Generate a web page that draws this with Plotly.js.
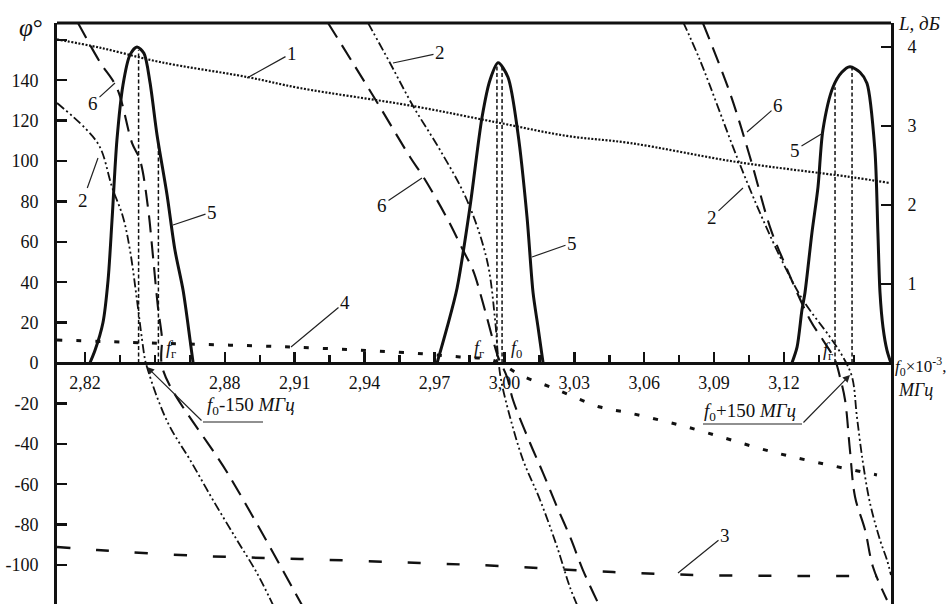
<!DOCTYPE html>
<html><head><meta charset="utf-8">
<script src="https://cdn.plot.ly/plotly-3.0.1.min.js"></script>
<style>html,body{margin:0;padding:0;background:#fff}#chart{width:947px;height:605px}</style>
</head><body><div id="chart"></div>
<script>
// ---- data (frequency f0×10^-3, MHz; phase φ°; loss L, dB) ----
const f1   = [2.808, 2.8264, 2.8522, 2.8895, 2.9123, 2.9608, 2.9981, 3.0269, 3.0539, 3.0998, 3.1483, 3.1655];
const phi1 = [160.2, 156.1, 149.0, 141.6, 136.1, 127.2, 118.8, 112.4, 108.9, 99.5, 92.1, 89.1];

const f2a   = [2.808, 2.82, 2.8264, 2.8316, 2.8363, 2.8393, 2.8423, 2.8445, 2.8458, 2.8466, 2.8509, 2.8565, 2.8651, 2.8749, 2.8852, 2.8938, 2.9007];
const phi2a = [128.7, 116.3, 106.9, 87.1, 72.3, 55.9, 31.2, 11.4, 1.5, -2.0, -16.8, -31.7, -48.0, -67.8, -87.6, -104.0, -119.8];
const f2b   = [2.9415, 2.9509, 2.9608, 2.9724, 2.9839, 2.9925, 2.996, 2.9973, 2.9985, 3.0024, 3.008, 3.0153, 3.0226, 3.0281, 3.0312];
const phi2b = [168.3, 148.5, 127.2, 105.4, 80.7, 51.0, 21.3, 3.0, -8.0, -26.7, -48.0, -67.8, -91.0, -110.9, -119.8];
const f2c   = [3.0767, 3.0839, 3.0998, 3.1097, 3.1196, 3.1281, 3.1397, 3.1453, 3.1492, 3.1513, 3.1539, 3.1569, 3.1612, 3.1642, 3.1659];
const phi2c = [168.8, 150.0, 102.0, 74.3, 49.5, 31.2, 12.9, 3.0, -6.9, -26.7, -49.5, -69.3, -87.6, -97.5, -105.0];

const f3   = [2.808, 2.8252, 2.8694, 2.9123, 2.9638, 2.9981, 3.0466, 3.0839, 3.1269, 3.1599];
const phi3 = [-91.1, -92.6, -95.5, -97.0, -99.0, -100.5, -103.5, -105.0, -105.4, -105.4];

const f4   = [2.808, 2.8479, 2.908, 2.9595, 2.9809, 2.9925, 2.9981, 3.0067, 3.0209, 3.041, 3.0539, 3.0784, 3.117, 3.1599];
const phi4 = [11.4, 9.9, 7.9, 5.0, 3.0, 2.0, 0.0, -5.9, -12.4, -21.8, -24.8, -31.7, -44.6, -55.4];

const f5a = [2.8221, 2.8243, 2.8277, 2.8299, 2.8316, 2.8337, 2.8363, 2.8393, 2.8423, 2.8453, 2.8479, 2.8509, 2.8552, 2.8586, 2.8621, 2.8651, 2.8664];
const L5a = [0, 0.16, 0.51, 1.05, 1.81, 2.82, 3.52, 3.9, 4.0, 3.92, 3.55, 2.89, 2.13, 1.43, 0.92, 0.29, 0];
const f5b = [2.9711, 2.9754, 2.9797, 2.9852, 2.9904, 2.9938, 2.9973, 3.0015, 3.0058, 3.0097, 3.0123, 3.0144, 3.0166];
const L5b = [0, 0.45, 0.95, 1.97, 3.11, 3.58, 3.8, 3.62, 2.91, 1.85, 0.89, 0.46, 0];
const f5c = [3.1234, 3.1256, 3.1277, 3.129, 3.132, 3.1346, 3.1367, 3.141, 3.1448, 3.1483, 3.1526, 3.1556, 3.159, 3.1603, 3.1612, 3.1625, 3.1642, 3.1659];
const L5c = [0, 0.2, 0.67, 0.89, 1.65, 2.23, 2.95, 3.49, 3.68, 3.75, 3.68, 3.54, 2.7, 1.65, 0.89, 0.45, 0.16, 0];

const f6a   = [2.817, 2.8264, 2.8337, 2.8402, 2.8436, 2.847, 2.8492, 2.8513, 2.853, 2.8535, 2.8822, 2.9131];
const phi6a = [168.3, 149.0, 136.1, 108.9, 100.5, 77.2, 52.5, 27.7, 12.9, -3.5, -56.4, -119.8];
const f6b   = [2.9243, 2.935, 2.9466, 2.9595, 2.9655, 2.9758, 2.9822, 2.9865, 2.9908, 2.9951, 2.9973, 3.0011, 3.0037, 3.011, 3.0166, 3.0226, 3.0282, 3.0337, 3.0402];
const phi6b = [168.3, 148.5, 126.7, 102.0, 91.6, 70.8, 55.9, 46.0, 29.7, 11.4, 3.0, -6.9, -18.3, -39.6, -54.5, -71.3, -86.1, -102.5, -118.8];
const f6c   = [3.0852, 3.0968, 3.1054, 3.114, 3.1196, 3.1312, 3.1367, 3.1419, 3.144, 3.1462, 3.1483, 3.1505, 3.1548, 3.1582, 3.1642];
const phi6c = [168.3, 133.7, 102.0, 67.3, 51.0, 21.3, 11.4, 1.5, -6.9, -18.3, -43.1, -66.3, -82.7, -101.0, -117.3];

// resonance markers (f_г, f_0) and the level they rise to
const fMark = [2.843, 2.8515, 2.9968, 2.999, 3.1419, 3.1492];
const LMark = [3.96, 2.78, 3.78, 3.78, 3.49, 3.75];

// ticks
const xTicks = [2.82, 2.88, 2.91, 2.94, 2.97, 3.00, 3.03, 3.06, 3.09, 3.12];
const xTickText = ['2,82','2,88','2,91','2,94','2,97','3,00','3,03','3,06','3,09','3,12'];
const xMinorTicks = [2.835, 2.85, 2.865, 2.895, 2.925, 2.955, 2.985, 3.015, 3.045, 3.075, 3.105, 3.135, 3.15];
const yTicks = [-100, -80, -60, -40, -20, 0, 20, 40, 60, 80, 100, 120, 140];
const yTickText = ['-100','-80','-60','-40','-20','0','20','40','60','80','100','120','140'];
const yExtraTicks = [160];
const y2Ticks = [1, 2, 3, 4];

// ---- geometry ----
const PL = 57, PR = 891, PT = 23, PB = 604, W = 947, H = 605;
const fx = px => 2.82 + (px - 85) / 2330;
const fphi = py => (363 - py) / 2.02;
const fL = py => (363 - py) / 79;

const join = (...parts) => parts.reduce((acc, p, i) => i ? acc.concat([null], p) : p.slice(), []);
const vx = [], vy = [];
fMark.forEach((f, i) => { vx.push(f, f, null); vy.push(0, LMark[i], null); });

const serif = 'Liberation Serif, Times New Roman, serif';
const ink = '#111';

const traces = [
  {x: f1, y: phi1, mode: 'lines', line: {color: ink, width: 2.2, dash: '2px,1.6px', shape: 'spline'}},
  {x: join(f2a, f2b, f2c), y: join(phi2a, phi2b, phi2c), mode: 'lines',
   line: {color: ink, width: 1.8, dash: '9px,3px,2px,3px,2px,3px', shape: 'spline'}},
  {x: f3, y: phi3, mode: 'lines', line: {color: ink, width: 2.5, dash: '13px,26px', shape: 'spline'}},
  {x: f4, y: phi4, mode: 'lines', line: {color: ink, width: 3, dash: '5px,14px', shape: 'spline'}},
  {x: join(f6a, f6b, f6c), y: join(phi6a, phi6b, phi6c), mode: 'lines',
   line: {color: ink, width: 2.1, dash: '17px,9px', shape: 'spline'}},
  {x: join(f5a, f5b, f5c), y: join(L5a, L5b, L5c), yaxis: 'y2', mode: 'lines',
   line: {color: ink, width: 3, shape: 'spline', smoothing: 0.8}},
  {x: vx, y: vy, yaxis: 'y2', mode: 'lines', line: {color: ink, width: 1.5, dash: '4px,2.5px'}}
];

// ---- annotations ----
const P = (px, py) => ({x: (px - PL) / (PR - PL), y: (PB - py) / (PB - PT)});
const ann = [];
function leader(text, tx, ty, hx, hy) {
  const p = P(hx, hy);
  ann.push({xref: 'paper', yref: 'paper', x: p.x, y: p.y, ax: tx - hx, ay: ty - hy, text,
    showarrow: true, arrowhead: 0, arrowwidth: 1.2, arrowcolor: '#222', standoff: 0,
    font: {family: serif, size: 19, color: ink}});
}
function label(text, px, py, xanchor, size) {
  const p = P(px, py);
  ann.push({xref: 'paper', yref: 'paper', x: p.x, y: p.y, text, showarrow: false,
    xanchor: xanchor || 'center', yanchor: 'middle', font: {family: serif, size: size || 17, color: ink}});
}
function arrow(tx, ty, hx, hy) {
  const p = P(hx, hy);
  ann.push({xref: 'paper', yref: 'paper', x: p.x, y: p.y, ax: tx - hx, ay: ty - hy, text: '',
    showarrow: true, arrowhead: 2, arrowsize: 1.2, arrowwidth: 1.2, arrowcolor: '#222', standoff: 0});
}
leader('1', 292, 53, 247, 78);
leader('6', 93, 103, 115, 83);
leader('2', 83, 200, 98, 158);
leader('5', 212, 212, 173, 225);
leader('4', 345, 302, 291, 347);
leader('2', 440, 53, 393, 63);
leader('6', 382, 205, 422, 178);
leader('5', 572, 243, 532, 257);
leader('6', 778, 105, 747, 132);
leader('5', 795, 150, 823, 133);
leader('2', 712, 217, 743, 188);
leader('3', 725, 535, 678, 573);

label('<i>φ</i>°', 31, 28, 'center', 25);
label('<i>L, дБ</i>', 896, 23, 'left', 19);
label('<i>f</i><sub>0</sub>×10<sup>-3</sup>,', 893, 366, 'left', 17);
label('<i>МГц</i>', 896, 390, 'left', 18);
label('<i>f</i><sub>0</sub>-150 <i>МГц</i>', 205, 406, 'left', 19);
label('<i>f</i><sub>0</sub>+150 <i>МГц</i>', 702, 412, 'left', 19);
label('<i>f</i><sub>г</sub>', 171, 349, 'center', 18);
label('<i>f</i><sub>г</sub>', 479, 349, 'center', 18);
label('<i>f</i><sub>0</sub>', 516, 349, 'center', 18);
label('<i>f</i><sub>г</sub>', 828, 351, 'center', 18);
arrow(203, 422, 147, 367);
arrow(802, 424, 850, 375);

const uline = (x0, x1, y) => ({type: 'line', xref: 'paper', yref: 'paper',
  x0: P(x0, y).x, x1: P(x1, y).x, y0: P(x0, y).y, y1: P(x1, y).y, line: {color: '#222', width: 1.2}});

const tickFont = {family: serif, size: 18, color: ink};
const layout = {
  width: W, height: H, paper_bgcolor: '#fff', plot_bgcolor: '#fff',
  margin: {l: PL, r: W - PR, t: PT, b: H - PB, pad: 0},
  showlegend: false, hovermode: false,
  font: {family: serif, size: 18, color: ink},
  xaxis: {range: [fx(PL), fx(PR)], anchor: 'free', position: (PB - 363) / (PB - PT),
    showline: true, linewidth: 3, linecolor: ink, showgrid: false, zeroline: false,
    tickmode: 'array', tickvals: xTicks, ticktext: xTickText, ticks: 'inside', ticklen: 10, tickwidth: 2.5, tickcolor: ink,
    minor: {tickmode: 'array', tickvals: xMinorTicks, ticks: 'inside', ticklen: 7, tickwidth: 2.5, tickcolor: ink},
    ticklabelstandoff: 2, tickfont: tickFont},
  yaxis: {range: [fphi(PB), fphi(PT)], showline: true, linewidth: 3, linecolor: ink, showgrid: false, zeroline: false,
    tickmode: 'array', tickvals: yTicks, ticktext: yTickText, ticks: 'inside', ticklen: 10, tickwidth: 2.5, tickcolor: ink,
    minor: {tickmode: 'array', tickvals: yExtraTicks, ticks: 'inside', ticklen: 10, tickwidth: 2.5, tickcolor: ink},
    ticklabelstandoff: 12, tickfont: tickFont},
  yaxis2: {range: [fL(PB), fL(PT)], overlaying: 'y', side: 'right', showline: true, linewidth: 3, linecolor: ink,
    showgrid: false, zeroline: false, tickmode: 'array', tickvals: y2Ticks, ticks: 'inside', ticklen: 10, tickwidth: 2.5,
    tickcolor: ink, ticklabelstandoff: 10, tickfont: tickFont},
  shapes: [
    {type: 'line', xref: 'paper', yref: 'paper', x0: 0, x1: 1, y0: 1, y1: 1, line: {color: ink, width: 3}},
    uline(203, 263, 422), uline(703, 802, 424)
  ],
  annotations: ann
};

Plotly.newPlot('chart', traces, layout, {staticPlot: true, displayModeBar: false});
</script></body></html>
